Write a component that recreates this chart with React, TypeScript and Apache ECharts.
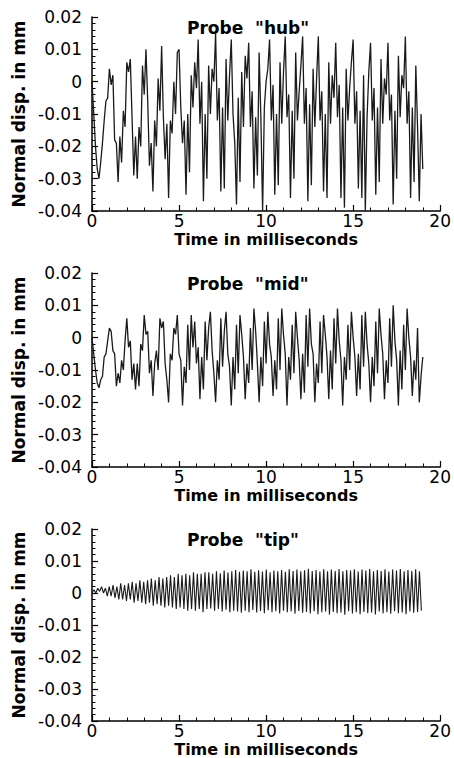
import React, { useEffect, useRef } from "react";
import * as echarts from "echarts";

// Sample step (ms) of each probe record
const HUB_DT = 0.1;
const MID_DT = 0.1;
const TIP_DT = 0.11;

const probeTitles = ['Probe  "hub"', 'Probe  "mid"', 'Probe  "tip"'];
const xTicks = [0, 5, 10, 15, 20];
const yTicks = [-0.04, -0.03, -0.02, -0.01, 0, 0.01, 0.02];

// Normal displacement (mm), probe "hub"
const hub = [
  0.000, -0.010, -0.020, -0.027, -0.030, -0.025, -0.019, -0.012, -0.006, -0.005,
  0.004, -0.001, 0.002, -0.018, -0.019, -0.031, -0.017, -0.025, -0.009, -0.014,
  0.006, 0.003, 0.007, -0.011, -0.029, -0.017, -0.030, -0.014, -0.020, 0.005,
  -0.004, 0.010, -0.006, -0.026, -0.019, -0.034, -0.012, -0.020, 0.001, -0.009,
  0.011, -0.011, -0.024, -0.013, -0.036, -0.012, -0.016, 0.000, -0.010, 0.009,
  0.010, -0.008, -0.019, -0.012, -0.035, -0.010, -0.028, 0.002, -0.008, 0.006,
  -0.002, 0.013, -0.013, 0.000, -0.037, -0.010, -0.030, 0.005, -0.010, 0.004,
  0.000, 0.015, -0.012, -0.002, -0.034, -0.008, -0.033, 0.007, -0.012, 0.002,
  0.013, -0.010, -0.019, -0.038, -0.005, -0.031, 0.003, -0.014, 0.008, 0.001,
  0.012, -0.014, -0.003, -0.033, -0.011, -0.029, 0.009, -0.011, -0.040, -0.008,
  0.000, 0.004, 0.013, -0.012, -0.001, -0.035, -0.010, -0.032, 0.006, -0.013,
  0.003, 0.014, -0.011, -0.004, -0.036, -0.009, -0.030, 0.009, -0.012, -0.003,
  0.005, 0.014, -0.013, -0.002, -0.037, -0.007, -0.032, 0.004, -0.014, 0.001,
  0.014, -0.012, -0.003, -0.034, -0.010, -0.036, 0.006, -0.013, 0.002, -0.005,
  0.012, -0.011, -0.001, -0.036, -0.008, -0.039, 0.004, -0.012, -0.002, 0.006,
  0.013, -0.013, -0.003, -0.033, -0.009, -0.036, 0.002, -0.040, -0.011, 0.003,
  0.012, -0.012, -0.002, -0.035, -0.008, -0.031, 0.007, -0.013, 0.001, -0.004,
  0.012, -0.012, -0.004, -0.038, -0.009, -0.030, 0.008, -0.011, 0.002, -0.002,
  0.014, -0.013, -0.003, -0.036, -0.008, -0.031, 0.005, -0.014, -0.037, -0.010,
  -0.027,
];

// Normal displacement (mm), probe "mid"
const mid = [
  0.000, -0.005, -0.010, -0.014, -0.0155, -0.013, -0.012, -0.006, -0.005, -0.001,
  0.003, 0.002, -0.004, -0.005, -0.015, -0.011, -0.014, -0.007, -0.010, -0.001,
  0.006, -0.003, -0.001, -0.013, -0.008, -0.016, -0.008, -0.015, -0.002, -0.004,
  0.007, 0.001, 0.002, -0.011, -0.007, -0.018, -0.008, -0.004, -0.010, 0.006,
  0.003, 0.005, -0.008, -0.013, -0.020, -0.005, -0.007, 0.003, 0.001, 0.007,
  -0.005, -0.007, -0.021, -0.009, -0.014, 0.004, -0.010, 0.007, -0.003, 0.005,
  -0.008, -0.003, -0.019, -0.006, -0.016, 0.005, -0.007, 0.003, 0.008, -0.004,
  -0.011, -0.020, -0.007, -0.013, 0.006, -0.009, 0.002, 0.008, -0.005, -0.009,
  -0.021, -0.006, -0.016, 0.004, -0.011, 0.007, 0.001, -0.006, -0.019, -0.008,
  -0.014, 0.003, -0.010, 0.009, 0.002, -0.008, -0.020, -0.006, -0.015, 0.005,
  -0.008, 0.008, -0.002, -0.006, -0.018, -0.007, -0.016, 0.006, -0.010, 0.009,
  0.001, -0.005, -0.021, -0.006, -0.013, 0.004, -0.011, 0.008, 0.000, -0.007,
  -0.019, -0.005, -0.017, 0.007, -0.009, 0.009, -0.002, -0.005, -0.020, -0.008,
  -0.014, 0.005, -0.011, 0.007, 0.001, -0.006, -0.019, -0.004, -0.016, 0.006,
  -0.008, 0.009, -0.001, -0.007, -0.021, -0.006, -0.013, 0.004, -0.010, 0.008,
  0.000, -0.006, -0.018, -0.005, -0.016, 0.007, -0.009, 0.008, -0.002, -0.008,
  -0.020, -0.006, -0.015, 0.005, -0.011, 0.009, 0.001, -0.005, -0.019, -0.007,
  -0.014, 0.006, -0.009, 0.010, -0.001, -0.007, -0.021, -0.004, -0.016, 0.004,
  -0.010, 0.009, 0.000, -0.006, -0.018, -0.007, -0.013, 0.003, -0.020, -0.012,
  -0.006,
];

// Normal displacement (mm), probe "tip"
const tip = [
  0.000, 0.001, 0.000, 0.0015, 0.0005, 0.002, 0.000, 0.0015, -0.001, 0.002,
  -0.001, 0.0025, -0.0015, 0.002, -0.002, 0.003, -0.002, 0.0025, -0.0025, 0.003,
  -0.002, 0.0035, -0.003, 0.003, -0.0025, 0.004, -0.003, 0.0035, -0.0035, 0.004,
  -0.003, 0.0045, -0.004, 0.004, -0.0035, 0.005, -0.004, 0.0045, -0.0045, 0.005,
  -0.004, 0.0055, -0.0045, 0.005, -0.005, 0.006, -0.0045, 0.0055, -0.005, 0.006,
  -0.0055, 0.0055, -0.005, 0.0065, -0.0055, 0.006, -0.005, 0.006, -0.006, 0.0065,
  -0.005, 0.0065, -0.0048, 0.006, -0.0055, 0.0068, -0.005, 0.0062, -0.0058, 0.007,
  -0.0052, 0.0064, -0.006, 0.0068, -0.0055, 0.0072, -0.0058, 0.0066, -0.0062, 0.007,
  -0.0055, 0.0068, -0.006, 0.0074, -0.0053, 0.0066, -0.0061, 0.0071, -0.0056, 0.0067,
  -0.0063, 0.0073, -0.0054, 0.0065, -0.006, 0.007, -0.0057, 0.0068, -0.0064, 0.0072,
  -0.0055, 0.0066, -0.006, 0.0074, -0.0058, 0.0069, -0.0065, 0.0073, -0.0056, 0.0068,
  -0.0062, 0.0071, -0.0059, 0.0076, -0.0064, 0.0069, -0.0057, 0.0072, -0.0066, 0.0067,
  -0.006, 0.0074, -0.0058, 0.0068, -0.0067, 0.0073, -0.0059, 0.0069, -0.0063, 0.0075,
  -0.0061, 0.0068, -0.0068, 0.0072, -0.0057, 0.007, -0.0064, 0.0074, -0.006, 0.0067,
  -0.0066, 0.0073, -0.0059, 0.007, -0.0063, 0.0075, -0.0061, 0.0068, -0.0067, 0.0072,
  -0.0058, 0.0069, -0.0064, 0.0074, -0.006, 0.0067, -0.0065, 0.0073, -0.0057, 0.007,
  -0.0063, 0.0075, -0.0061, 0.0068, -0.0066, 0.0072, -0.0058, 0.0069, -0.0062, 0.0074,
  -0.0059, 0.0068, -0.0055,
];

const FONT = '"DejaVu Sans", "Liberation Sans", Arial, sans-serif';
const GRID_LEFT = 92;
const GRID_WIDTH = 349;
const GRID_HEIGHT = 194;
const GRID_TOPS = [17, 273, 529];

function toPairs(values: number[], dt: number): [number, number][] {
  return values.map((v, i) => [Math.round(i * dt * 1000) / 1000, v]);
}

function fmtY(v: number): string {
  const r = Math.round(v * 100) / 100;
  return r === 0 ? "0" : String(r);
}

export default function App() {
  const ref = useRef<HTMLDivElement>(null);

  useEffect(() => {
    if (!ref.current) return;
    const chart = echarts.init(ref.current, undefined, { renderer: "svg" });
    const seriesData = [toPairs(hub, HUB_DT), toPairs(mid, MID_DT), toPairs(tip, TIP_DT)];

    const grids = GRID_TOPS.map((top) => ({
      left: GRID_LEFT,
      width: GRID_WIDTH,
      top,
      height: GRID_HEIGHT,
      containLabel: false,
    }));

    const xAxes = GRID_TOPS.map((_, i) => ({
      type: "value",
      gridIndex: i,
      min: xTicks[0],
      max: xTicks[xTicks.length - 1],
      interval: 5,
      axisLine: { show: true, onZero: false, lineStyle: { color: "#000", width: 1.5 } },
      axisTick: { show: true, inside: true, length: 6, lineStyle: { color: "#000", width: 1.2 } },
      minorTick: { show: true, splitNumber: 5, length: 3.5, lineStyle: { color: "#000", width: 1 } },
      splitLine: { show: false },
      minorSplitLine: { show: false },
      axisLabel: { color: "#000", fontSize: 17, fontFamily: FONT, margin: 1, lineHeight: 17 },
      name: "Time in milliseconds",
      nameLocation: "middle",
      nameGap: 20,
      nameTextStyle: { color: "#000", fontSize: 16, fontWeight: "bold", fontFamily: FONT, lineHeight: 16 },
    }));

    const yAxes = GRID_TOPS.map((_, i) => ({
      type: "value",
      gridIndex: i,
      min: yTicks[0],
      max: yTicks[yTicks.length - 1],
      interval: 0.01,
      axisLine: { show: true, onZero: false, lineStyle: { color: "#000", width: 1.5 } },
      axisTick: { show: true, inside: true, length: 6, lineStyle: { color: "#000", width: 1.2 } },
      minorTick: { show: true, splitNumber: 5, length: 3.5, lineStyle: { color: "#000", width: 1 } },
      splitLine: { show: false },
      minorSplitLine: { show: false },
      axisLabel: { color: "#000", fontSize: 17, fontFamily: FONT, margin: 10, formatter: fmtY },
      name: "Normal disp. in mm",
      nameLocation: "middle",
      nameGap: 63,
      nameTextStyle: { color: "#000", fontSize: 17, fontWeight: "bold", fontFamily: FONT },
    }));

    const series = seriesData.map((data, i) => ({
      type: "line",
      xAxisIndex: i,
      yAxisIndex: i,
      data,
      showSymbol: false,
      symbol: "none",
      lineStyle: { color: "#1a1a1a", width: i === 2 ? 1.1 : 1.3 },
      silent: true,
    }));

    const graphic = GRID_TOPS.map((top, i) => ({
      type: "text",
      x: 187,
      y: top + 10.5,
      style: {
        text: probeTitles[i],
        fontSize: 17,
        fontWeight: "bold",
        fontFamily: FONT,
        fill: "#000",
        align: "left",
        verticalAlign: "middle",
      },
    }));

    chart.setOption({
      animation: false,
      backgroundColor: "#fff",
      grid: grids,
      xAxis: xAxes,
      yAxis: yAxes,
      series,
      graphic,
    } as any);

    return () => chart.dispose();
  }, []);

  return (
    <div
      ref={ref}
      style={{ position: "absolute", left: 0, top: 0, width: 454, height: 758 }}
    />
  );
}
